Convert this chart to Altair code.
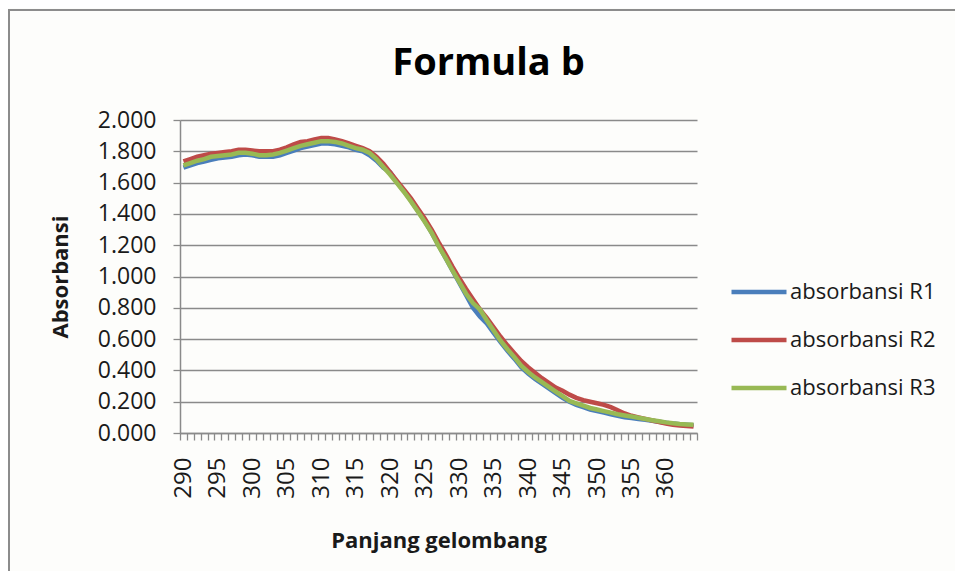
import altair as alt
import pandas as pd

wavelength = list(range(290, 365))

r1 = [1.695, 1.71, 1.725, 1.735, 1.745, 1.755, 1.76, 1.765, 1.775, 1.78,
      1.775, 1.765, 1.765, 1.765, 1.775, 1.79, 1.805, 1.82, 1.83, 1.84,
      1.85, 1.85, 1.845, 1.835, 1.825, 1.81, 1.80, 1.775, 1.74, 1.695,
      1.665, 1.60, 1.545, 1.485, 1.42, 1.355, 1.28, 1.20, 1.12, 1.04,
      0.96, 0.88, 0.80, 0.745, 0.70, 0.64, 0.58, 0.525, 0.475, 0.42,
      0.38, 0.345, 0.315, 0.285, 0.255, 0.225, 0.20, 0.18, 0.165, 0.15,
      0.14, 0.13, 0.12, 0.11, 0.10, 0.095, 0.09, 0.085, 0.078, 0.072,
      0.066, 0.06, 0.056, 0.053, 0.05]

r2 = [1.735, 1.75, 1.765, 1.775, 1.785, 1.79, 1.795, 1.80, 1.81, 1.81,
      1.805, 1.80, 1.80, 1.80, 1.81, 1.825, 1.845, 1.86, 1.865, 1.875,
      1.885, 1.885, 1.875, 1.865, 1.85, 1.835, 1.82, 1.80, 1.765, 1.72,
      1.665, 1.61, 1.555, 1.50, 1.435, 1.37, 1.30, 1.22, 1.145, 1.065,
      0.99, 0.92, 0.855, 0.79, 0.735, 0.675, 0.615, 0.56, 0.51, 0.46,
      0.42, 0.385, 0.35, 0.32, 0.29, 0.27, 0.245, 0.225, 0.21, 0.20,
      0.19, 0.18, 0.165, 0.145, 0.125, 0.11, 0.10, 0.09, 0.08, 0.07,
      0.06, 0.052, 0.048, 0.045, 0.042]

r3 = [1.71, 1.725, 1.74, 1.75, 1.765, 1.77, 1.775, 1.78, 1.79, 1.79,
      1.785, 1.775, 1.775, 1.78, 1.79, 1.805, 1.82, 1.835, 1.845, 1.855,
      1.865, 1.865, 1.86, 1.85, 1.835, 1.82, 1.81, 1.79, 1.75, 1.70,
      1.65, 1.595, 1.54, 1.48, 1.415, 1.35, 1.28, 1.195, 1.12, 1.04,
      0.965, 0.89, 0.83, 0.79, 0.72, 0.655, 0.59, 0.535, 0.485, 0.43,
      0.39, 0.355, 0.325, 0.295, 0.265, 0.235, 0.205, 0.19, 0.175, 0.16,
      0.15, 0.14, 0.13, 0.12, 0.112, 0.105, 0.097, 0.09, 0.082, 0.075,
      0.068, 0.062, 0.058, 0.055, 0.052]

series_names = ["absorbansi R1", "absorbansi R2", "absorbansi R3"]
series_colors = ["#4A7EBB", "#BE4B48", "#98B954"]
y_ticks = [0.0, 0.2, 0.4, 0.6, 0.8, 1.0, 1.2, 1.4, 1.6, 1.8, 2.0]

rows = []
for name, vals in zip(series_names, [r1, r2, r3]):
    for w, v in zip(wavelength, vals):
        rows.append({"wl": w, "val": v, "series": name})
df = pd.DataFrame(rows)

FONT = "Open Sans"
GRID = "#8a8a8a"
TEXT = "#1a1a1a"

lines = alt.Chart(df).mark_line(strokeWidth=4.5, interpolate="linear").encode(
    x=alt.X("wl:O",
            sort="ascending",
            scale=alt.Scale(type="band", paddingInner=0, paddingOuter=0),
            axis=alt.Axis(
                title="Panjang gelombang",
                tickBand="extent",
                labelExpr="datum.value % 5 == 0 ? datum.label : ''",
                labelAngle=-90,
                labelPadding=17,
                labelFontSize=24,
                labelFont=FONT,
                labelColor=TEXT,
                labelOverlap=False,
                labelFlush=False,
                labelBound=False,
                tickSize=7,
                tickColor=GRID,
                tickWidth=1.3,
                domainColor=GRID,
                domainWidth=1.5,
                grid=False,
                titleFont=FONT,
                titleFontSize=22,
                titleFontWeight="bold",
                titleColor=TEXT,
                titleY=107,
                titleBaseline="middle",
            )),
    y=alt.Y("val:Q",
            scale=alt.Scale(domain=[0, 2], nice=False),
            axis=alt.Axis(
                title="Absorbansi",
                values=y_ticks,
                format=".3f",
                labelFontSize=23,
                labelFont=FONT,
                labelColor=TEXT,
                labelPadding=17,
                tickSize=7,
                tickColor=GRID,
                tickWidth=1.3,
                domainColor=GRID,
                domainWidth=1.5,
                grid=True,
                gridColor=GRID,
                gridWidth=1.5,
                titleFont=FONT,
                titleFontSize=22,
                titleFontWeight="bold",
                titleColor=TEXT,
                titleX=-120,
                titleBaseline="middle",
            )),
    color=alt.Color("series:N",
                    scale=alt.Scale(domain=series_names, range=series_colors),
                    legend=alt.Legend(
                        title=None,
                        orient="none",
                        legendX=549,
                        legendY=142,
                        symbolType="stroke",
                        symbolSize=3025,
                        symbolStrokeWidth=4.5,
                        labelFont=FONT,
                        labelFontSize=22,
                        labelColor=TEXT,
                        labelOffset=1,
                        rowPadding=7,
                    )),
)

frame = alt.Chart(pd.DataFrame({"f": [0]})).mark_rect(
    fill="transparent", stroke="#8c8c8c", strokeWidth=2
).encode(
    x=alt.value(-171), x2=alt.value(778), y=alt.value(-110), y2=alt.value(480)
)

chart = alt.layer(frame, lines).properties(
    width=517,
    height=313,
    title=alt.TitleParams("Formula b", font=FONT, fontSize=38, fontWeight="bold",
                          color="#000000", anchor="middle", frame="group",
                          dx=50, offset=-74),
    background="#fdfdfb",
    autosize=alt.AutoSizeParams(type="none"),
    padding={"left": 172, "top": 112, "right": 258, "bottom": 138},
).configure_view(stroke=None)

chart.save("out.html", embed_options={"renderer": "svg", "actions": False})
